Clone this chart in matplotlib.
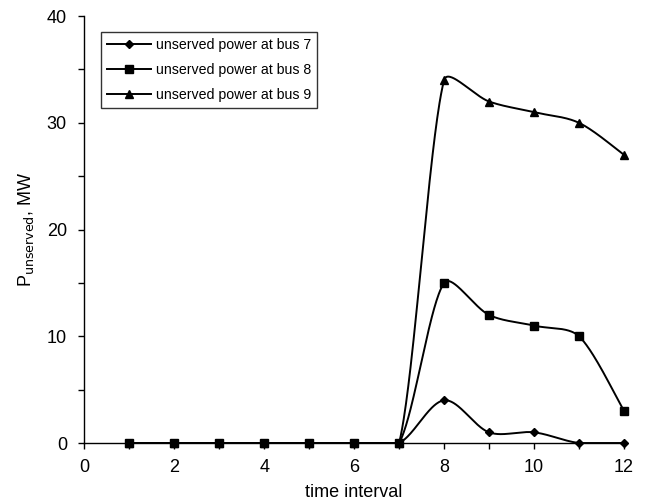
import numpy as np
import matplotlib
matplotlib.use("Agg")
import matplotlib.pyplot as plt
from matplotlib.lines import Line2D

plt.rcParams['font.family'] = ['Liberation Sans', 'DejaVu Sans']

time_interval = [1, 2, 3, 4, 5, 6, 7, 8, 9, 10, 11, 12]
bus7 = [0, 0, 0, 0, 0, 0, 0, 4, 1, 1, 0, 0]
bus8 = [0, 0, 0, 0, 0, 0, 0, 15, 12, 11, 10, 3]
bus9 = [0, 0, 0, 0, 0, 0, 0, 34, 32, 31, 30, 27]
labels = ["unserved power at bus 7", "unserved power at bus 8", "unserved power at bus 9"]


def smooth(ax, x, y, n=60):
    """Cubic Bezier smoothing (Catmull-Rom handles, shortened next to short
    segments), computed in display space."""
    pts = ax.transData.transform(np.column_stack([x, y]).astype(float))
    m = len(pts)
    out = []
    for i in range(m - 1):
        p0 = pts[max(i - 1, 0)]
        p1 = pts[i]
        p2 = pts[i + 1]
        p3 = pts[min(i + 2, m - 1)]
        d01 = np.hypot(*(p1 - p0))
        d12 = np.hypot(*(p2 - p1))
        d23 = np.hypot(*(p3 - p2))
        f1 = min(1.0, 2 * d12 / (d01 + d12)) if (d01 + d12) > 0 else 0
        f2 = min(1.0, 2 * d12 / (d12 + d23)) if (d12 + d23) > 0 else 0
        c1 = p1 + (p2 - p0) * f1 / 6.0
        c2 = p2 - (p3 - p1) * f2 / 6.0
        t = np.linspace(0, 1, n)[:, None]
        seg = ((1 - t) ** 3) * p1 + 3 * ((1 - t) ** 2) * t * c1 + 3 * (1 - t) * t ** 2 * c2 + t ** 3 * p2
        out.append(seg)
    disp = np.vstack(out)
    data = ax.transData.inverted().transform(disp)
    return data[:, 0], np.maximum(data[:, 1], 0)


fig = plt.figure(figsize=(6.48, 5.04), dpi=100)
ax = fig.add_axes([0.13, 0.121, 0.833, 0.847])
ax.set_xlim(0, 12)
ax.set_ylim(0, 40)

series = [(bus7, 'D', 4.5, 3), (bus9, '^', 6.0, 4), (bus8, 's', 5.5, 5)]
for vals, mk, ms, z in series:
    sx, sy = smooth(ax, time_interval, vals)
    ax.plot(sx, sy, color='black', lw=1.4, zorder=z, clip_on=False)
    ax.plot(time_interval, vals, linestyle='none', marker=mk, ms=ms,
            color='black', zorder=z + 0.5, clip_on=False)

ax.set_xticks(range(0, 13, 2))
ax.set_xticks(range(0, 13), minor=True)
ax.set_yticks(range(0, 41, 10))
ax.set_yticks(range(0, 41, 5), minor=True)

for s in ['top', 'right']:
    ax.spines[s].set_visible(False)
for s in ['left', 'bottom']:
    ax.spines[s].set_linewidth(1.0)

ax.tick_params(axis='both', which='both', direction='out', length=4.5, width=1.0, labelsize=13)
ax.tick_params(axis='x', which='major', pad=7)
ax.tick_params(axis='y', which='major', pad=8)
ax.set_xlabel("time interval", fontsize=13, labelpad=6)
ax.set_ylabel(r"P$_{\mathrm{unserved}}$, MW", fontsize=13, labelpad=8)

handles = [
    Line2D([], [], color='black', lw=1.4, marker='D', ms=4.5),
    Line2D([], [], color='black', lw=1.4, marker='s', ms=5.5),
    Line2D([], [], color='black', lw=1.4, marker='^', ms=6.0),
]
leg = ax.legend(handles, labels, loc='upper left', bbox_to_anchor=(0.031, 0.963),
                fontsize=10.2, frameon=True, fancybox=False, handlelength=3.1,
                handletextpad=0.3, borderpad=0.45, labelspacing=0.75, borderaxespad=0)
leg.get_frame().set_edgecolor('black')
leg.get_frame().set_linewidth(1.0)

fig.savefig("out.png", dpi=100)
